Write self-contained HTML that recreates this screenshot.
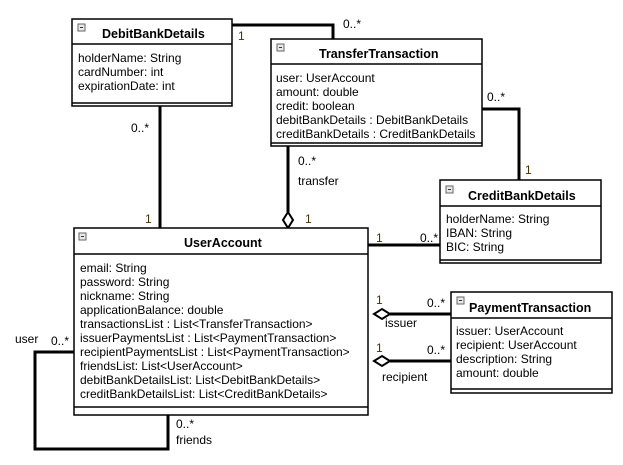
<!DOCTYPE html>
<html><head><style>
body{margin:0;background:#fff;}
svg text{font-family:"Liberation Sans",Arial,sans-serif;font-size:12px;fill:#000;}
.b{font-weight:bold;font-size:12.5px;}
.m{fill:#4a3000;}
</style></head><body>
<svg width="623" height="460" xmlns="http://www.w3.org/2000/svg">
<g fill="none" stroke="#000" stroke-width="3">
<polyline points="232,25 333,25 333,39"/>
<line x1="160" y1="106" x2="160" y2="228"/>
<line x1="288" y1="146" x2="288" y2="212"/>
<polyline points="482,109 519,109 519,180"/>
<line x1="368" y1="245" x2="440" y2="245"/>
<line x1="390" y1="314" x2="451" y2="314"/>
<line x1="390" y1="361" x2="451" y2="361"/>
<polyline points="74,352 35,352 35,449 168,449 168,415"/>
</g>
<g fill="#fff" stroke="#000" stroke-width="2">
<polygon points="288,212 293,220 288,228 283,220"/>
<polygon points="374,314 382,309 390,314 382,319"/>
<polygon points="374,361 382,356 390,361 382,366"/>
</g>
<g fill="#fff" stroke="#000" stroke-width="1.5">
<rect x="72" y="19" width="160" height="87"/>
<line x1="72" y1="44" x2="232" y2="44"/><line x1="72" y1="103" x2="232" y2="103"/>
<rect x="271" y="39" width="211" height="107"/>
<line x1="271" y1="64" x2="482" y2="64"/><line x1="271" y1="143" x2="482" y2="143"/>
<rect x="440" y="180" width="161" height="83"/>
<line x1="440" y1="206" x2="601" y2="206"/><line x1="440" y1="260" x2="601" y2="260"/>
<rect x="451" y="292" width="161" height="101"/>
<line x1="451" y1="318" x2="612" y2="318"/><line x1="451" y1="389" x2="612" y2="389"/>
<rect x="74" y="228" width="294" height="187"/>
<line x1="74" y1="254" x2="368" y2="254"/><line x1="74" y1="407" x2="368" y2="407"/>
</g>
<g fill="#e8e8e8" stroke="#666" stroke-width="1">
<rect x="78" y="24" width="7" height="7"/><rect x="277" y="44" width="7" height="7"/>
<rect x="446" y="186" width="7" height="7"/><rect x="457" y="297" width="7" height="7"/>
<rect x="79" y="233" width="7" height="7"/>
</g>
<g stroke="#333" stroke-width="1">
<line x1="80" y1="27.5" x2="83" y2="27.5"/><line x1="279" y1="47.5" x2="282" y2="47.5"/>
<line x1="448" y1="189.5" x2="451" y2="189.5"/><line x1="459" y1="300.5" x2="462" y2="300.5"/>
<line x1="81" y1="236.5" x2="84" y2="236.5"/>
</g>
<text class="b" x="102" y="38">DebitBankDetails</text>
<text x="78" y="62">holderName: String</text><text x="78" y="76">cardNumber: int</text><text x="78" y="90">expirationDate: int</text>
<text class="b" x="319" y="58">TransferTransaction</text>
<text x="276" y="82">user: UserAccount</text><text x="276" y="96">amount: double</text><text x="276" y="110">credit: boolean</text>
<text x="276" y="124">debitBankDetails : DebitBankDetails</text><text x="276" y="138">creditBankDetails : CreditBankDetails</text>
<text class="b" x="468" y="200">CreditBankDetails</text>
<text x="446" y="223">holderName: String</text><text x="446" y="237">IBAN: String</text><text x="446" y="251">BIC: String</text>
<text class="b" x="469" y="312">PaymentTransaction</text>
<text x="456" y="335">issuer: UserAccount</text><text x="456" y="349">recipient: UserAccount</text><text x="456" y="363">description: String</text><text x="456" y="377">amount: double</text>
<text class="b" x="184" y="247">UserAccount</text>
<text x="80" y="272">email: String</text><text x="80" y="286">password: String</text><text x="80" y="300">nickname: String</text>
<text x="80" y="314">applicationBalance: double</text><text x="80" y="328">transactionsList : List&lt;TransferTransaction&gt;</text>
<text x="80" y="342">issuerPaymentsList : List&lt;PaymentTransaction&gt;</text><text x="80" y="356">recipientPaymentsList : List&lt;PaymentTransaction&gt;</text>
<text x="80" y="370">friendsList: List&lt;UserAccount&gt;</text><text x="80" y="384">debitBankDetailsList: List&lt;DebitBankDetails&gt;</text>
<text x="80" y="398">creditBankDetailsList: List&lt;CreditBankDetails&gt;</text>
<text class="m" x="238" y="40">1</text><text x="343" y="28">0..*</text>
<text x="131" y="132">0..*</text><text class="m" x="145" y="223">1</text>
<text x="298" y="165">0..*</text><text x="298" y="185">transfer</text><text class="m" x="305" y="223">1</text>
<text x="487" y="101">0..*</text><text class="m" x="525" y="174">1</text>
<text class="m" x="376" y="242">1</text><text x="420" y="242">0..*</text>
<text class="m" x="376" y="304">1</text><text x="427" y="307">0..*</text><text x="385" y="327">issuer</text>
<text class="m" x="376" y="352">1</text><text x="427" y="354">0..*</text><text x="382" y="381">recipient</text>
<text x="15" y="343">user</text><text x="51" y="345">0..*</text>
<text x="176" y="428">0..*</text><text x="176" y="444">friends</text>
</svg>
</body></html>
